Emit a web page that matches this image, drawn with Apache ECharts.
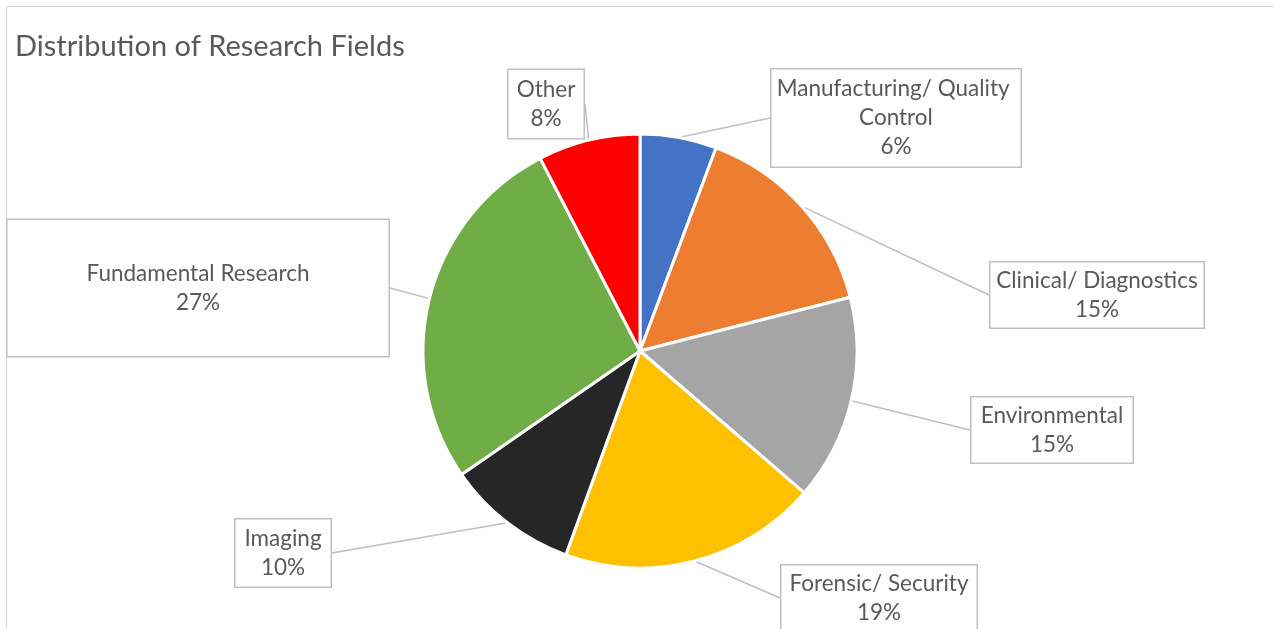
<!DOCTYPE html>
<html>
<head>
<meta charset="utf-8">
<script src="https://cdn.jsdelivr.net/npm/echarts@6/dist/echarts.min.js"></script>
<style>
  html, body { margin: 0; padding: 0; background: #fff; }
  #chart { width: 1274px; height: 629px; }
</style>
</head>
<body>
<div id="chart"></div>
<script>
// slices, clockwise from 12 o'clock
const fields = [
  'Manufacturing/ Quality Control',
  'Clinical/ Diagnostics',
  'Environmental',
  'Forensic/ Security',
  'Imaging',
  'Fundamental Research',
  'Other'
]
const shares = [5.7, 15.3, 15.3, 19.2, 9.8, 27.0, 7.6]
const sliceColors = ['#4472C4', '#ED7D31', '#A5A5A5', '#FFC000', '#262626', '#70AD47', '#FF0000']

// callout boxes: center x, center y, width, vertical padding
const labelBoxes = [
  [896, 118, 249, 5],
  [1097, 295, 213, 3.5],
  [1052, 430, 161, 3.5],
  [879, 598, 195, 3.5],
  [283, 553, 95, 4.5],
  [198, 288, 381, 39],
  [546, 104, 75, 5]
]

const chart = echarts.init(document.getElementById('chart'))

const option = {
  animation: false,
  title: {
    text: 'Distribution of Research Fields',
    left: 10,
    top: 27,
    textStyle: {
      fontFamily: 'Lato',
      fontSize: 29,
      fontWeight: 'normal',
      color: '#595959'
    }
  },
  graphic: [{
    type: 'rect',
    shape: { x: 6.5, y: 6.5, width: 1400, height: 800 },
    style: { fill: null, stroke: '#d9d9d9', lineWidth: 1 },
    silent: true
  }],
  series: [{
    type: 'pie',
    center: [640, 351],
    radius: 217,
    startAngle: 90,
    clockwise: true,
    avoidLabelOverlap: false,
    percentPrecision: 0,
    itemStyle: { borderColor: '#fff', borderWidth: 3 },
    label: {
      show: true,
      position: 'outside',
      formatter: '{b}\n{d}%',
      fontFamily: 'Lato',
      fontSize: 22.5,
      lineHeight: 29,
      color: '#595959',
      backgroundColor: '#fff',
      borderColor: '#bfbfbf',
      borderWidth: 1.5,
      overflow: 'break'
    },
    labelLine: {
      show: true,
      length: 10,
      length2: 0,
      lineStyle: { color: '#bfbfbf', width: 1.5 }
    },
    labelLayout: params => {
      const b = labelBoxes[params.dataIndex]
      return { x: b[0], y: b[1], align: 'center', verticalAlign: 'middle' }
    },
    emphasis: { disabled: true },
    data: fields.map((name, i) => ({
      name: name,
      value: shares[i],
      itemStyle: { color: sliceColors[i] },
      label: { width: labelBoxes[i][2], padding: [labelBoxes[i][3], 0] }
    }))
  }]
}

chart.setOption(option)
</script>
</body>
</html>
